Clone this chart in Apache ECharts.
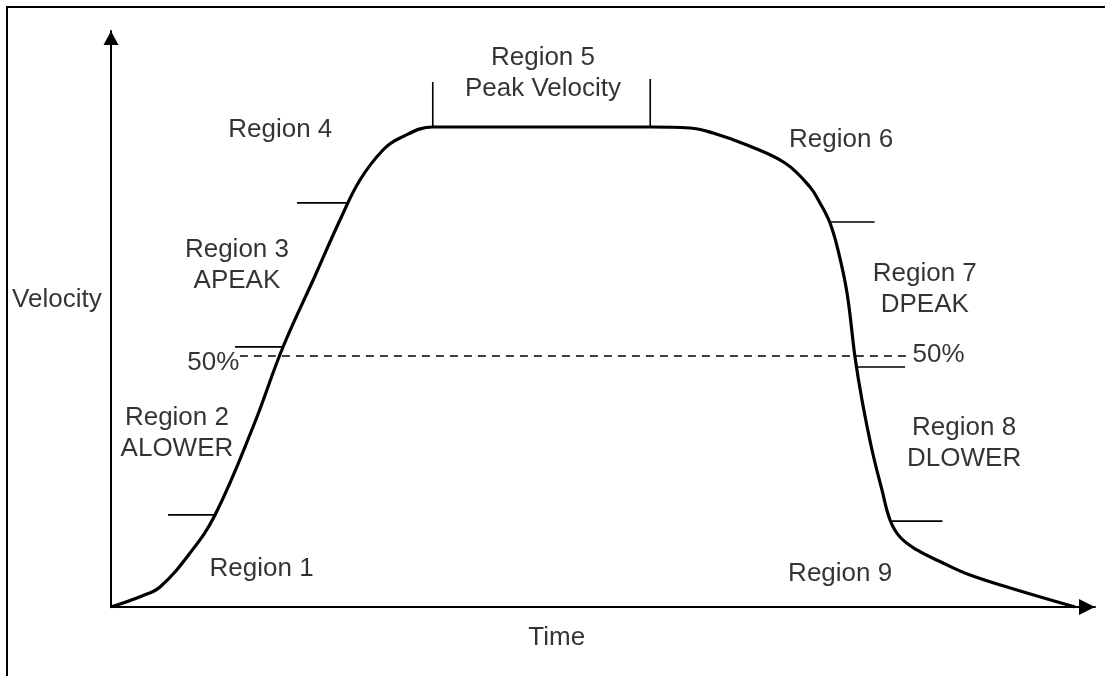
<!DOCTYPE html>
<html>
<head>
<meta charset="utf-8">
<script src="https://cdn.jsdelivr.net/npm/echarts@6/dist/echarts.min.js"></script>
<style>
html,body{margin:0;padding:0;background:#fff;}
#chart{width:1105px;height:676px;}
</style>
</head>
<body>
<div id="chart"></div>
<script>
// ---- data (abstract units: time 0..100, velocity 0..120, peak = 100) ----
const curveTime     = [0, 3.15, 4.98, 8.03, 10.57, 14.43, 17.48, 20.73, 23.27, 25.30, 27.64, 29.37, 32.72, 54.78, 58.84, 61.18, 64.63, 68.50, 71.04, 72.05, 73.07, 73.88, 74.80, 75.61, 76.32, 77.34, 78.35, 79.17, 80.18, 81.91, 84.55, 87.30, 92.07, 97.97];
const curveVelocity = [0, 2.29, 4.17, 11.25, 19.17, 37.5, 54.17, 68.96, 80.63, 88.96, 95.21, 97.71, 100, 100, 99.79, 98.75, 96.25, 92.5, 87.5, 84.17, 80.0, 74.38, 65.42, 52.08, 43.13, 32.71, 24.38, 18.13, 14.58, 11.88, 9.17, 6.67, 3.54, 0];

// horizontal region boundary markers
const hTickVelocity = [19.2, 54.2, 84.2, 80.2, 50.0, 17.9];
const hTickFrom     = [5.8, 12.6, 18.9, 73.1, 75.6, 79.2];
const hTickTo       = [10.7, 17.5, 24.0, 77.6, 80.7, 84.5];

// vertical boundary markers of the peak region
const vTickTime   = [32.7, 54.8];
const vTickBottom = [100, 100];
const vTickTop    = [109.4, 110.0];

// 50% reference line
const halfVelocity = 52.3;
const halfFrom = 13.1;
const halfTo = 80.9;

// annotations
const labelTexts    = ['Region 1', 'Region 2\nALOWER', '50%', 'Region 3\nAPEAK', 'Region 4', 'Region 5\nPeak Velocity', 'Region 6', 'Region 7\nDPEAK', '50%', 'Region 8\nDLOWER', 'Region 9', 'Velocity', 'Time'];
const labelTime     = [15.3, 6.7, 10.4, 12.8, 17.2, 43.9, 74.2, 82.7, 84.1, 86.7, 74.1, -5.5, 45.3];
const labelVelocity = [7.9, 36.2, 50.9, 71.2, 99.4, 111.1, 97.3, 66.2, 52.5, 34.2, 7.0, 64.0, -6.5];

const FONT = 'Liberation Sans, Arial, sans-serif';
const chart = echarts.init(document.getElementById('chart'), null, {renderer: 'canvas'});

const series = [];
series.push({
  type: 'line', data: curveTime.map((t, i) => [t, curveVelocity[i]]),
  smooth: 0.4, symbol: 'none', lineStyle: {color: '#000', width: 3.2}, z: 5
});
hTickVelocity.forEach((v, i) => {
  series.push({type: 'line', data: [[hTickFrom[i], v], [hTickTo[i], v]], symbol: 'none',
    lineStyle: {color: '#000', width: 1.6}, z: 4});
});
vTickTime.forEach((t, i) => {
  series.push({type: 'line', data: [[t, vTickBottom[i]], [t, vTickTop[i]]], symbol: 'none',
    lineStyle: {color: '#000', width: 1.6}, z: 4});
});
series.push({type: 'line', data: [[halfFrom, halfVelocity], [halfTo, halfVelocity]], symbol: 'none',
  lineStyle: {color: '#000', width: 1.5, type: [8, 6]}, z: 3});
series.push({
  type: 'scatter', clip: false, symbolSize: 0, z: 6,
  data: labelTexts.map((s, i) => ({value: [labelTime[i], labelVelocity[i]], name: s})),
  label: {show: true, position: 'inside', formatter: p => p.name, color: '#000',
    fontFamily: FONT, fontSize: 26, lineHeight: 31, align: 'center', verticalAlign: 'middle'}
});

chart.setOption({
  animation: false,
  backgroundColor: '#fff',
  grid: {left: 111, right: 10, top: 31, bottom: 69},
  xAxis: {type: 'value', min: 0, max: 100,
    axisLine: {show: true, lineStyle: {color: '#000', width: 2}, symbol: ['none', 'triangle'], symbolSize: [16, 16], symbolOffset: [0, -8]},
    axisTick: {show: false}, axisLabel: {show: false}, splitLine: {show: false}},
  yAxis: {type: 'value', min: 0, max: 120,
    axisLine: {show: true, lineStyle: {color: '#000', width: 2}, symbol: ['none', 'triangle'], symbolSize: [15, 14], symbolOffset: [0, -7]},
    axisTick: {show: false}, axisLabel: {show: false}, splitLine: {show: false}},
  graphic: [{type: 'polyline', shape: {points: [[7, 676], [7, 7], [1105, 7]]},
    style: {stroke: '#000', lineWidth: 2, fill: null}}],
  series: series
});
</script>
</body>
</html>
